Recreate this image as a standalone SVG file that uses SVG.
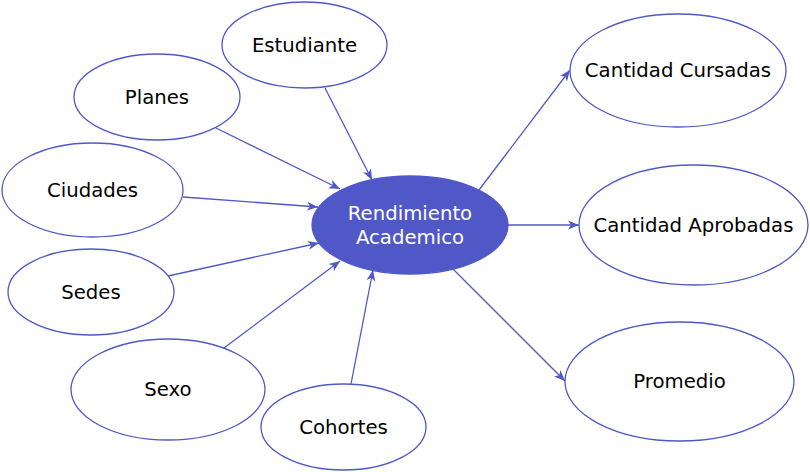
<svg xmlns="http://www.w3.org/2000/svg" width="810" height="472" viewBox="0 0 810 472">
<style>
.n{fill:#fff;stroke:#5058c8;stroke-width:1.3}
.c{fill:#5058c8;stroke:#5058c8;stroke-width:1.3}
.t{font-family:"DejaVu Sans","Liberation Sans",sans-serif;font-size:19.7px;fill:#000;text-anchor:middle}
.w{fill:#fff}
.e{stroke:#5058c8;stroke-width:1.3;fill:none;marker-end:url(#a)}
</style>
<defs>
<marker id="a" markerUnits="userSpaceOnUse" markerWidth="12" markerHeight="10" refX="11" refY="4.5" orient="auto" viewBox="0 0 12 9">
<path d="M0,0 L11,4.5 L0,9 L3,4.5 z" fill="#5058c8"/>
</marker>
</defs>
<g id="connectors">
<line class="e" x1="325" y1="88" x2="372" y2="180"/>
<line class="e" x1="216" y1="128" x2="340" y2="189"/>
<line class="e" x1="183" y1="197" x2="318" y2="207"/>
<line class="e" x1="168" y1="276" x2="319" y2="243"/>
<line class="e" x1="224" y1="348" x2="340" y2="261"/>
<line class="e" x1="351" y1="384" x2="373" y2="270"/>
<line class="e" x1="479" y1="190" x2="570" y2="70"/>
<line class="e" x1="508" y1="225" x2="579" y2="225"/>
<line class="e" x1="452" y1="268" x2="565" y2="381"/>
</g>
<g id="estudiante"><ellipse class="n" cx="304.5" cy="45" rx="82.5" ry="43"/><text class="t" x="304.5" y="52">Estudiante</text></g>
<g id="planes"><ellipse class="n" cx="157" cy="97" rx="83" ry="43"/><text class="t" x="157" y="104">Planes</text></g>
<g id="ciudades"><ellipse class="n" cx="92.5" cy="190" rx="90.5" ry="47"/><text class="t" x="92.5" y="196.5">Ciudades</text></g>
<g id="sedes"><ellipse class="n" cx="91" cy="292" rx="83" ry="43"/><text class="t" x="91" y="299">Sedes</text></g>
<g id="sexo"><ellipse class="n" cx="168" cy="389.5" rx="97" ry="50.5"/><text class="t" x="168" y="396">Sexo</text></g>
<g id="cohortes"><ellipse class="n" cx="343.5" cy="427" rx="82.5" ry="43"/><text class="t" x="343.5" y="433.5">Cohortes</text></g>
<g id="rendimiento"><ellipse class="c" cx="410" cy="225" rx="98" ry="49"/><text class="t w" x="410" y="220">Rendimiento</text><text class="t w" x="410" y="244">Academico</text></g>
<g id="cursadas"><ellipse class="n" cx="678" cy="70.5" rx="108" ry="56.5"/><text class="t" x="678" y="76.5">Cantidad Cursadas</text></g>
<g id="aprobadas"><ellipse class="n" cx="693.5" cy="225" rx="114.5" ry="60"/><text class="t" x="693.5" y="231.5">Cantidad Aprobadas</text></g>
<g id="promedio"><ellipse class="n" cx="679.5" cy="381.5" rx="114.5" ry="59.5"/><text class="t" x="679.5" y="388">Promedio</text></g>
</svg>
